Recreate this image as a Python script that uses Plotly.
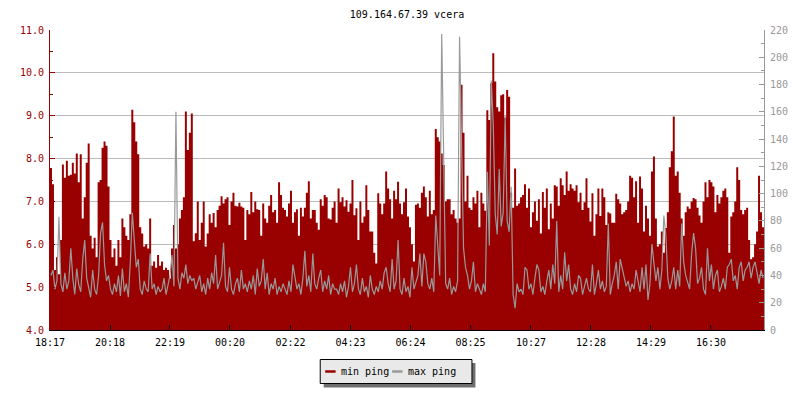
import numpy as np
import plotly.graph_objects as go

# ---------------- data ----------------
# min ping (ms, left axis), one value every 4 minutes starting 18:17
min_ping_1 = [7.78, 7.4, 5.4, 5.7, 5.3, 6.1, 7.86, 7.55, 7.95, 7.6, 7.62, 7.9,
              7.65, 8.12, 7.45, 8.1, 6.6, 7.1, 7.9, 8.35, 6.2, 5.9, 6.15, 5.7,
              7.45, 7.5, 8.25, 8.4, 8.3, 7.35, 6.1, 5.7, 5.9, 5.5, 6.1, 5.7,
              6.6, 6.4, 6.2, 6.1, 6.7, 9.14, 8.85, 8.4, 8.1, 6.4, 6.25, 5.95,
              6.0, 5.9, 6.6, 5.5, 5.6, 5.45, 5.75, 5.5, 5.6, 5.4, 5.45, 5.4,
              5.2, 5.9, 6.45, 5.9, 6.0, 6.6, 6.8, 7.1, 9.1, 8.2, 8.6, 9.05]
min_ping_2 = [6.07, 6.26, 7.0, 6.1, 6.5, 7.0, 5.95, 6.25, 6.7, 6.5, 6.73, 6.4,
              6.8, 6.9, 7.12, 6.95, 7.05, 7.1, 6.45, 7.0, 7.2, 6.9, 6.88, 6.97,
              6.88, 6.85, 6.1, 6.8, 6.7, 7.22, 6.75, 7.0, 6.82, 6.8, 6.2, 6.95,
              6.6, 6.5, 6.9, 7.15, 6.75, 6.8, 6.5, 7.45, 7.15, 6.85, 6.8, 6.65,
              6.95, 7.25, 6.5, 6.75, 6.82, 6.2, 6.85, 6.65, 6.85, 7.2, 7.47, 6.6,
              6.8, 6.8, 6.5, 6.34, 7.05, 6.9, 7.15, 7.1, 6.6, 6.58, 6.85, 7.0]
min_ping_3 = [6.5, 7.3, 6.98, 7.1, 6.88, 7.03, 6.76, 6.95, 7.5, 6.68, 6.84, 6.1,
              7.0, 6.5, 6.65, 7.38, 6.8, 6.3, 6.3, 5.8, 5.55, 7.19, 6.95, 6.7,
              6.95, 7.7, 7.3, 7.05, 6.6, 7.25, 7.05, 7.46, 6.95, 6.7, 6.98, 7.3,
              6.65, 6.4, 6.0, 5.6, 6.92, 6.95, 6.85, 7.2, 7.35, 7.1, 6.65, 7.25,
              6.7, 6.8, 8.69, 8.5, 8.4, 8.12, 7.85, 7.0, 7.05, 7.05, 6.7, 6.8,
              6.6, 6.5, 6.6, 9.72, 8.6, 7.0, 7.6, 6.85, 6.8, 7.1, 6.95, 7.25]
min_ping_4 = [6.4, 7.2, 6.95, 6.78, 9.13, 8.9, 9.76, 10.46, 9.8, 9.2, 9.1, 9.48,
              9.5, 8.95, 9.6, 9.44, 7.2, 6.85, 7.77, 6.9, 6.95, 7.1, 7.15, 7.4,
              6.85, 7.3, 6.4, 6.75, 7.0, 6.55, 7.05, 6.25, 7.22, 6.85, 7.3, 6.35,
              6.95, 6.6, 7.38, 7.35, 6.9, 7.54, 7.38, 7.15, 7.7, 7.25, 7.4, 7.3,
              7.25, 7.38, 6.98, 7.2, 6.8, 6.98, 7.54, 6.85, 6.53, 7.19, 6.2, 6.7,
              7.3, 6.66, 7.3, 7.1, 6.45, 6.75, 6.72, 6.5, 6.5, 7.18, 7.05, 6.95]
min_ping_5 = [6.7, 6.75, 6.8, 7.0, 7.6, 7.55, 7.1, 7.47, 6.5, 7.58, 7.3, 6.3,
              6.9, 6.6, 6.2, 7.7, 8.05, 6.6, 5.95, 6.0, 6.3, 5.8, 6.38, 6.75,
              7.8, 8.17, 8.98, 7.6, 7.7, 7.2, 6.6, 6.2, 6.75, 6.88, 6.83, 7.0,
              7.08, 7.05, 6.85, 6.67, 6.5, 7.0, 7.45, 7.1, 7.5, 7.45, 7.35, 6.75,
              7.15, 6.95, 7.1, 7.25, 7.3, 7.1, 5.8, 6.65, 6.75, 7.0, 7.8, 7.5,
              6.8, 6.7, 6.8, 6.85, 6.1, 5.65, 5.7, 6.0, 6.3, 7.6, 6.75, 6.4]

# max ping (ms, right axis)
max_ping_1 = [40, 44, 30, 36, 83, 34, 28, 42, 30, 36, 60, 38, 26, 45, 33, 28, 52, 66,
              38, 30, 24, 44, 30, 26, 40, 71, 79, 48, 36, 40, 30, 26, 34, 28, 40, 25,
              45, 28, 34, 24, 50, 86, 62, 46, 52, 30, 26, 36, 30, 28, 56, 30, 34, 26,
              32, 28, 30, 38, 26, 34, 40, 55, 32, 160, 38, 30, 42, 38, 48, 34, 40, 36]
max_ping_2 = [38, 30, 36, 40, 28, 34, 26, 38, 30, 42, 34, 55, 30, 36, 40, 64, 32, 28,
              46, 30, 26, 34, 38, 28, 44, 30, 34, 28, 36, 30, 40, 26, 45, 32, 36, 52,
              30, 42, 26, 34, 30, 38, 26, 32, 28, 34, 30, 26, 36, 28, 48, 40, 30, 34,
              26, 38, 58, 32, 40, 28, 56, 34, 30, 38, 44, 28, 36, 30, 40, 26, 34, 30]
max_ping_3 = [30, 26, 34, 28, 36, 24, 32, 46, 28, 34, 48, 30, 26, 38, 28, 32, 24, 40,
              30, 26, 32, 28, 36, 30, 42, 46, 34, 28, 52, 30, 36, 66, 30, 26, 38, 28,
              32, 24, 46, 30, 36, 40, 56, 32, 56, 50, 34, 30, 38, 28, 84, 58, 40, 217,
              121, 34, 30, 38, 26, 32, 28, 36, 215, 147, 60, 46, 40, 30, 36, 50, 28, 34]
max_ping_4 = [30, 26, 34, 28, 116, 62, 183, 150, 85, 70, 118, 76, 86, 157, 80, 72, 105, 26,
              16, 34, 28, 30, 26, 46, 44, 30, 34, 26, 38, 48, 44, 28, 32, 26, 36, 44,
              30, 48, 34, 80, 28, 40, 30, 57, 36, 48, 30, 26, 34, 28, 40, 38, 26, 32,
              38, 30, 28, 48, 26, 34, 44, 30, 36, 28, 32, 78, 26, 34, 40, 50, 30, 52]
max_ping_5 = [46, 40, 32, 36, 28, 34, 30, 44, 36, 28, 46, 30, 48, 22, 34, 63, 49, 36,
              46, 30, 44, 84, 70, 38, 30, 36, 46, 30, 44, 32, 78, 50, 40, 34, 30, 56,
              71, 60, 34, 38, 46, 30, 26, 60, 36, 48, 30, 40, 44, 28, 32, 38, 30, 46,
              48, 52, 36, 40, 30, 46, 50, 36, 44, 46, 50, 38, 46, 50, 42, 34, 44, 38]

tick_labels = ["18:17", "20:18", "22:19", "00:20", "02:22", "04:23",
               "06:24", "08:25", "10:27", "12:28", "14:29", "16:30"]
start_label = "18:17"
step_minutes = 4
title_text = "109.164.67.39 vcera"
series_names = ["min ping", "max ping"]

# ---------------- build ----------------
RED = "#990000"
GRAY = "#999999"
FONT = "DejaVu Sans Mono"

min_ping = np.array(min_ping_1 + min_ping_2 + min_ping_3 + min_ping_4 + min_ping_5)
max_ping = np.array(max_ping_1 + max_ping_2 + max_ping_3 + max_ping_4 + max_ping_5)
t = np.arange(len(min_ping)) * step_minutes
t_ext = np.append(t, t[-1] + step_minutes)
min_ext = np.append(min_ping, min_ping[-1])
t_mid = t + step_minutes / 2.0


def to_min(lbl):
    h, m = map(int, lbl.split(":"))
    sh, sm = map(int, start_label.split(":"))
    return ((h * 60 + m) - (sh * 60 + sm)) % 1440


tick_vals = [to_min(l) for l in tick_labels]
total = len(min_ping) * step_minutes

fig = go.Figure()
fig.add_trace(go.Scatter(x=t_ext, y=min_ext, name=series_names[0], mode="lines",
                         line=dict(color=RED, width=0, shape="hv"),
                         fill="tozeroy", fillcolor=RED, yaxis="y",
                         hoverinfo="skip", showlegend=False))
fig.add_trace(go.Scatter(x=t_mid, y=max_ping, name=series_names[1], mode="lines",
                         line=dict(color=GRAY, width=1.2, shape="linear"), yaxis="y2",
                         hoverinfo="skip", showlegend=False))

L, R, T, B = 50, 30, 30, 70
W, H = 800, 400
PW, PH = W - L - R, H - T - B


def px(xp):
    return (xp - L) / PW


def py(yp):
    return (H - B - yp) / PH


shapes = [
    # legend shadow
    dict(type="rect", xref="paper", yref="paper", x0=px(326), x1=px(479),
         y0=py(387.5), y1=py(363), fillcolor="#6e6e6e", line=dict(width=0), layer="above"),
    # legend box
    dict(type="rect", xref="paper", yref="paper", x0=px(322.5), x1=px(475.5),
         y0=py(383.5), y1=py(359.5), fillcolor="#e9e9e9",
         line=dict(color="black", width=1), layer="above"),
    dict(type="line", xref="paper", yref="paper", x0=px(327.5), x1=px(338),
         y0=py(371.5), y1=py(371.5), line=dict(color=RED, width=2.5), layer="above"),
    dict(type="line", xref="paper", yref="paper", x0=px(395), x1=px(405.5),
         y0=py(371.5), y1=py(371.5), line=dict(color=GRAY, width=2.5), layer="above"),
]
annotations = [
    dict(text=series_names[0], xref="paper", yref="paper", x=px(341), y=py(371),
         xanchor="left", yanchor="middle", showarrow=False,
         font=dict(family=FONT, size=10, color="black")),
    dict(text=series_names[1], xref="paper", yref="paper", x=px(409), y=py(371),
         xanchor="left", yanchor="middle", showarrow=False,
         font=dict(family=FONT, size=10, color="black")),
]

fig.update_layout(
    width=W, height=H,
    margin=dict(l=L, r=R, t=T, b=B, pad=0),
    paper_bgcolor="white", plot_bgcolor="white",
    font=dict(family=FONT, size=10, color="black"),
    showlegend=False,
    title=dict(text=title_text, x=0.5, xref="paper", xanchor="center",
               y=1 - 14 / H, yref="container", yanchor="middle",
               font=dict(family=FONT, size=10, color="black")),
    xaxis=dict(range=[0, total], tickvals=tick_vals, ticktext=tick_labels,
               ticks="inside", ticklen=5, tickcolor="black", tickwidth=1,
               showline=True, linecolor="black", linewidth=1,
               showgrid=False, zeroline=False, ticklabelstandoff=3,
               tickfont=dict(family=FONT, size=10, color="black")),
    yaxis=dict(range=[4, 11], tick0=4, dtick=1, tickformat=".1f",
               ticks="inside", ticklen=5, tickcolor=RED, tickwidth=1,
               showline=True, linecolor=RED, linewidth=1,
               showgrid=True, gridcolor="#bbbbbb", gridwidth=1, zeroline=False,
               ticklabelstandoff=3,
               tickfont=dict(family=FONT, size=10, color=RED),
               minor=dict(dtick=0.5, ticks="inside", ticklen=3, tickcolor=RED,
                          showgrid=False)),
    yaxis2=dict(range=[0, 220], tick0=0, dtick=20, overlaying="y", side="right",
                ticks="inside", ticklen=5, tickcolor=GRAY, tickwidth=1,
                showline=True, linecolor=GRAY, linewidth=1,
                showgrid=False, zeroline=False, ticklabelstandoff=3,
                tickfont=dict(family=FONT, size=10, color=GRAY),
                minor=dict(dtick=10, ticks="inside", ticklen=3, tickcolor=GRAY,
                           showgrid=False)),
    shapes=shapes,
    annotations=annotations,
)

fig.write_html("out.html", config={"displayModeBar": False},
               post_script="document.body.style.margin='0';")
